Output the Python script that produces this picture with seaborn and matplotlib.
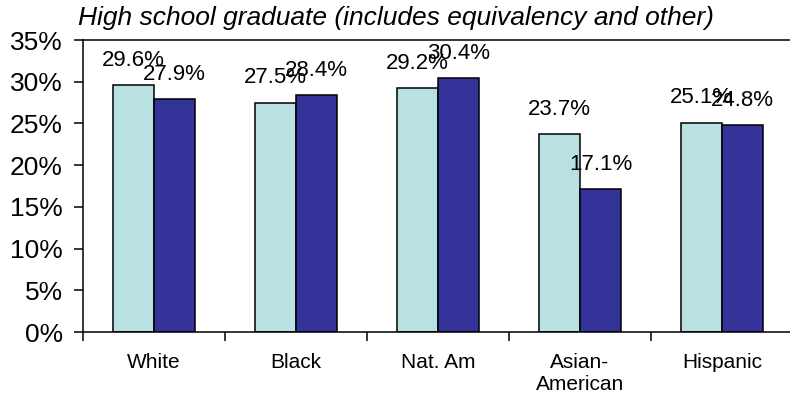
import matplotlib
matplotlib.use("Agg")
import matplotlib.pyplot as plt
import seaborn as sns
import pandas as pd
from matplotlib.ticker import FixedLocator, FuncFormatter

categories = ["White", "Black", "Nat. Am", "Asian-\nAmerican", "Hispanic"]
series_a = [29.6, 27.5, 29.2, 23.7, 25.1]
series_b = [27.9, 28.4, 30.4, 17.1, 24.8]
series_names = ["Series 1", "Series 2"]
y_ticks = [0, 5, 10, 15, 20, 25, 30, 35]
title = "High school graduate (includes equivalency and other)"

sns.set_theme(style="white")
plt.rcParams['font.family'] = ['Liberation Sans', 'DejaVu Sans']

df = pd.DataFrame({
    "category": categories * 2,
    "value": series_a + series_b,
    "series": [series_names[0]] * len(categories) + [series_names[1]] * len(categories),
})

fig = plt.figure(figsize=(7.9, 4.05), dpi=100)
ax = fig.add_axes([83 / 790, 1 - 332 / 405, 710 / 790, 292 / 405])
sns.barplot(data=df, x="category", y="value", hue="series",
            palette=["#B9E0E3", "#333399"], width=0.58, saturation=1,
            edgecolor="black", linewidth=1.1, errorbar=None, legend=False, ax=ax)

for cont in ax.containers:
    for bar in cont:
        h = bar.get_height()
        ax.annotate(f"{h:.1f}%", (bar.get_x() + bar.get_width() / 2, h),
                    xytext=(0, 14), textcoords="offset points",
                    ha="center", va="baseline", fontsize=16, color="black")

ax.set_ylim(0, 35)
ax.set_xlim(-0.5, len(categories) - 0.5)
ax.yaxis.set_major_locator(FixedLocator(y_ticks))
ax.yaxis.set_major_formatter(FuncFormatter(lambda v, p: f"{v:.0f}%"))
ax.set_xlabel("")
ax.set_ylabel("")
ax.xaxis.set_minor_locator(FixedLocator([i - 0.5 for i in range(len(categories) + 1)]))
ax.tick_params(axis="x", which="major", length=0, pad=15, labelsize=15, colors="black")
ax.tick_params(axis="x", which="minor", length=6.5, width=1.1, direction="out", color="black", bottom=True)
ax.tick_params(axis="y", which="major", length=6.5, width=1.1, direction="out", pad=8, labelsize=19, colors="black", left=True)

for s in ["left", "bottom", "top"]:
    ax.spines[s].set_visible(True)
    ax.spines[s].set_color("black")
    ax.spines[s].set_linewidth(1.1)
ax.spines["right"].set_visible(False)

fig.text(78 / 790, 1 - 25 / 405, title, fontsize=19, fontstyle="italic",
         ha="left", va="baseline", color="black")

fig.savefig("out.png", dpi=100)
